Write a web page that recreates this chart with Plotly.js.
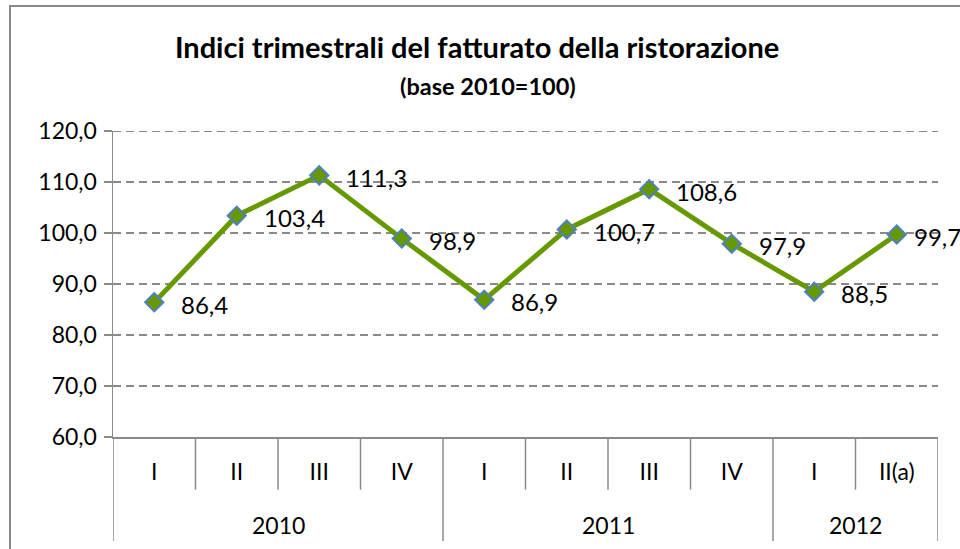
<!DOCTYPE html>
<html>
<head>
<meta charset="utf-8">
<script src="https://cdn.plot.ly/plotly-3.0.1.min.js"></script>
<style>
  html, body { margin: 0; padding: 0; background: #fff; }
  #wrap { position: relative; width: 960px; height: 549px; overflow: hidden; }
  #chart { width: 960px; height: 549px; }
  #frame { position: absolute; left: 9px; top: 5px; width: 1000px; height: 600px;
           border: 2px solid #8a8a8a; pointer-events: none; box-sizing: border-box; }
</style>
</head>
<body>
<div id="wrap">
  <div id="chart"></div>
  <div id="frame"></div>
</div>
<script>
// ---- data ----
const years    = ['2010', '2010', '2010', '2010', '2011', '2011', '2011', '2011', '2012', '2012'];
const quarters = ['I', 'II', 'III', 'IV', 'I', 'II', 'III', 'IV', 'I', 'II(a)'];
const values   = [86.4, 103.4, 111.3, 98.9, 86.9, 100.7, 108.6, 97.9, 88.5, 99.7];
const yTickVals = [60, 70, 80, 90, 100, 110, 120];

// ---- derived ----
const idx = quarters.map((q, i) => i);
const labels = values.map(v => v.toFixed(1).replace('.', ','));

const FONT = 'Lato, "Open Sans", "DejaVu Sans", sans-serif';
const GRAY = '#8a8a8a';
const GRID_DASH = '8px,5px';

const shapes = [];
// dividers below the x axis
const QROW = -0.172;   // bottom of quarter row (paper)
const FULL = -0.34;    // bottom of year row (paper)
for (let b = 0; b <= quarters.length; b++) {
  const isEdge = (b === 0 || b === quarters.length || years[b] !== years[b - 1]);
  shapes.push({
    type: 'line', xref: 'x', yref: 'paper',
    x0: b - 0.5, x1: b - 0.5, y0: 0, y1: isEdge ? FULL : QROW,
    line: { color: GRAY, width: 1.5 }
  });
}
// top gridline (Plotly drops the one at the range edge)
const yTop = Math.max(...yTickVals);
shapes.push({
  type: 'line', xref: 'paper', yref: 'y', x0: 0, x1: 1, y0: yTop, y1: yTop,
  line: { color: GRAY, width: 2, dash: GRID_DASH }, layer: 'below'
});

const annotations = [];
// year group labels
const uniqYears = [...new Set(years)];
uniqYears.forEach(y => {
  const members = idx.filter(i => years[i] === y);
  const c = members.reduce((a, b) => a + b, 0) / members.length;
  annotations.push({
    xref: 'x', yref: 'paper', x: c, y: -0.288, yanchor: 'middle',
    text: y, showarrow: false, font: { family: FONT, size: 23, color: '#000' }
  });
});
// data labels, to the right of each point
idx.forEach(i => {
  annotations.push({
    xref: 'x', yref: 'y', x: i, y: values[i],
    xanchor: 'left', yanchor: 'middle',
    xshift: i === idx.length - 1 ? 15 : 25, yshift: -2,
    text: labels[i], showarrow: false,
    font: { family: FONT, size: 24, color: '#000' }
  });
});
// subtitle
annotations.push({
  xref: 'paper', yref: 'paper', x: (488 - 113) / 825, y: 1 + (131 - 86) / 306,
  xanchor: 'center', yanchor: 'middle', showarrow: false,
  text: '<b>(base 2010=100)</b>', font: { family: FONT, size: 23.5, color: '#000' }
});

const trace = {
  type: 'scatter', mode: 'lines+markers',
  x: idx, y: values,
  cliponaxis: false,
  line: { color: '#669900', width: 5 },
  marker: { symbol: 'diamond', size: 14, color: '#669900',
            line: { color: '#4f81bd', width: 2 } },
  hoverinfo: 'skip'
};

const layout = {
  width: 960, height: 549,
  margin: { l: 113, r: 22, t: 131, b: 112 },
  paper_bgcolor: '#fff', plot_bgcolor: '#fff',
  separators: ',.',
  showlegend: false,
  title: {
    text: '<b>Indici trimestrali del fatturato della ristorazione</b>',
    xref: 'container', yref: 'container', x: 0.497, y: 1 - 48 / 549,
    xanchor: 'center', yanchor: 'middle',
    font: { family: FONT, size: 29, color: '#000' }
  },
  xaxis: {
    range: [-0.5, quarters.length - 0.5],
    tickmode: 'array', tickvals: idx, ticktext: quarters,
    showgrid: false, zeroline: false,
    showline: true, linecolor: GRAY, linewidth: 1.5,
    ticks: '', ticklabelstandoff: 14,
    tickfont: { family: FONT, size: 23, color: '#000' },
    fixedrange: true
  },
  yaxis: {
    range: [60, 120],
    tickmode: 'array', tickvals: yTickVals,
    tickformat: '.1f',
    showgrid: true, gridcolor: GRAY, gridwidth: 2, griddash: GRID_DASH,
    zeroline: false,
    showline: true, linecolor: GRAY, linewidth: 1.5,
    ticks: 'outside', ticklen: 8, tickcolor: GRAY, tickwidth: 1.5,
    ticklabelstandoff: 2,
    tickfont: { family: FONT, size: 23, color: '#000' },
    fixedrange: true
  },
  shapes: shapes,
  annotations: annotations
};

Plotly.newPlot('chart', [trace], layout, { displayModeBar: false, staticPlot: true });
</script>
</body>
</html>
